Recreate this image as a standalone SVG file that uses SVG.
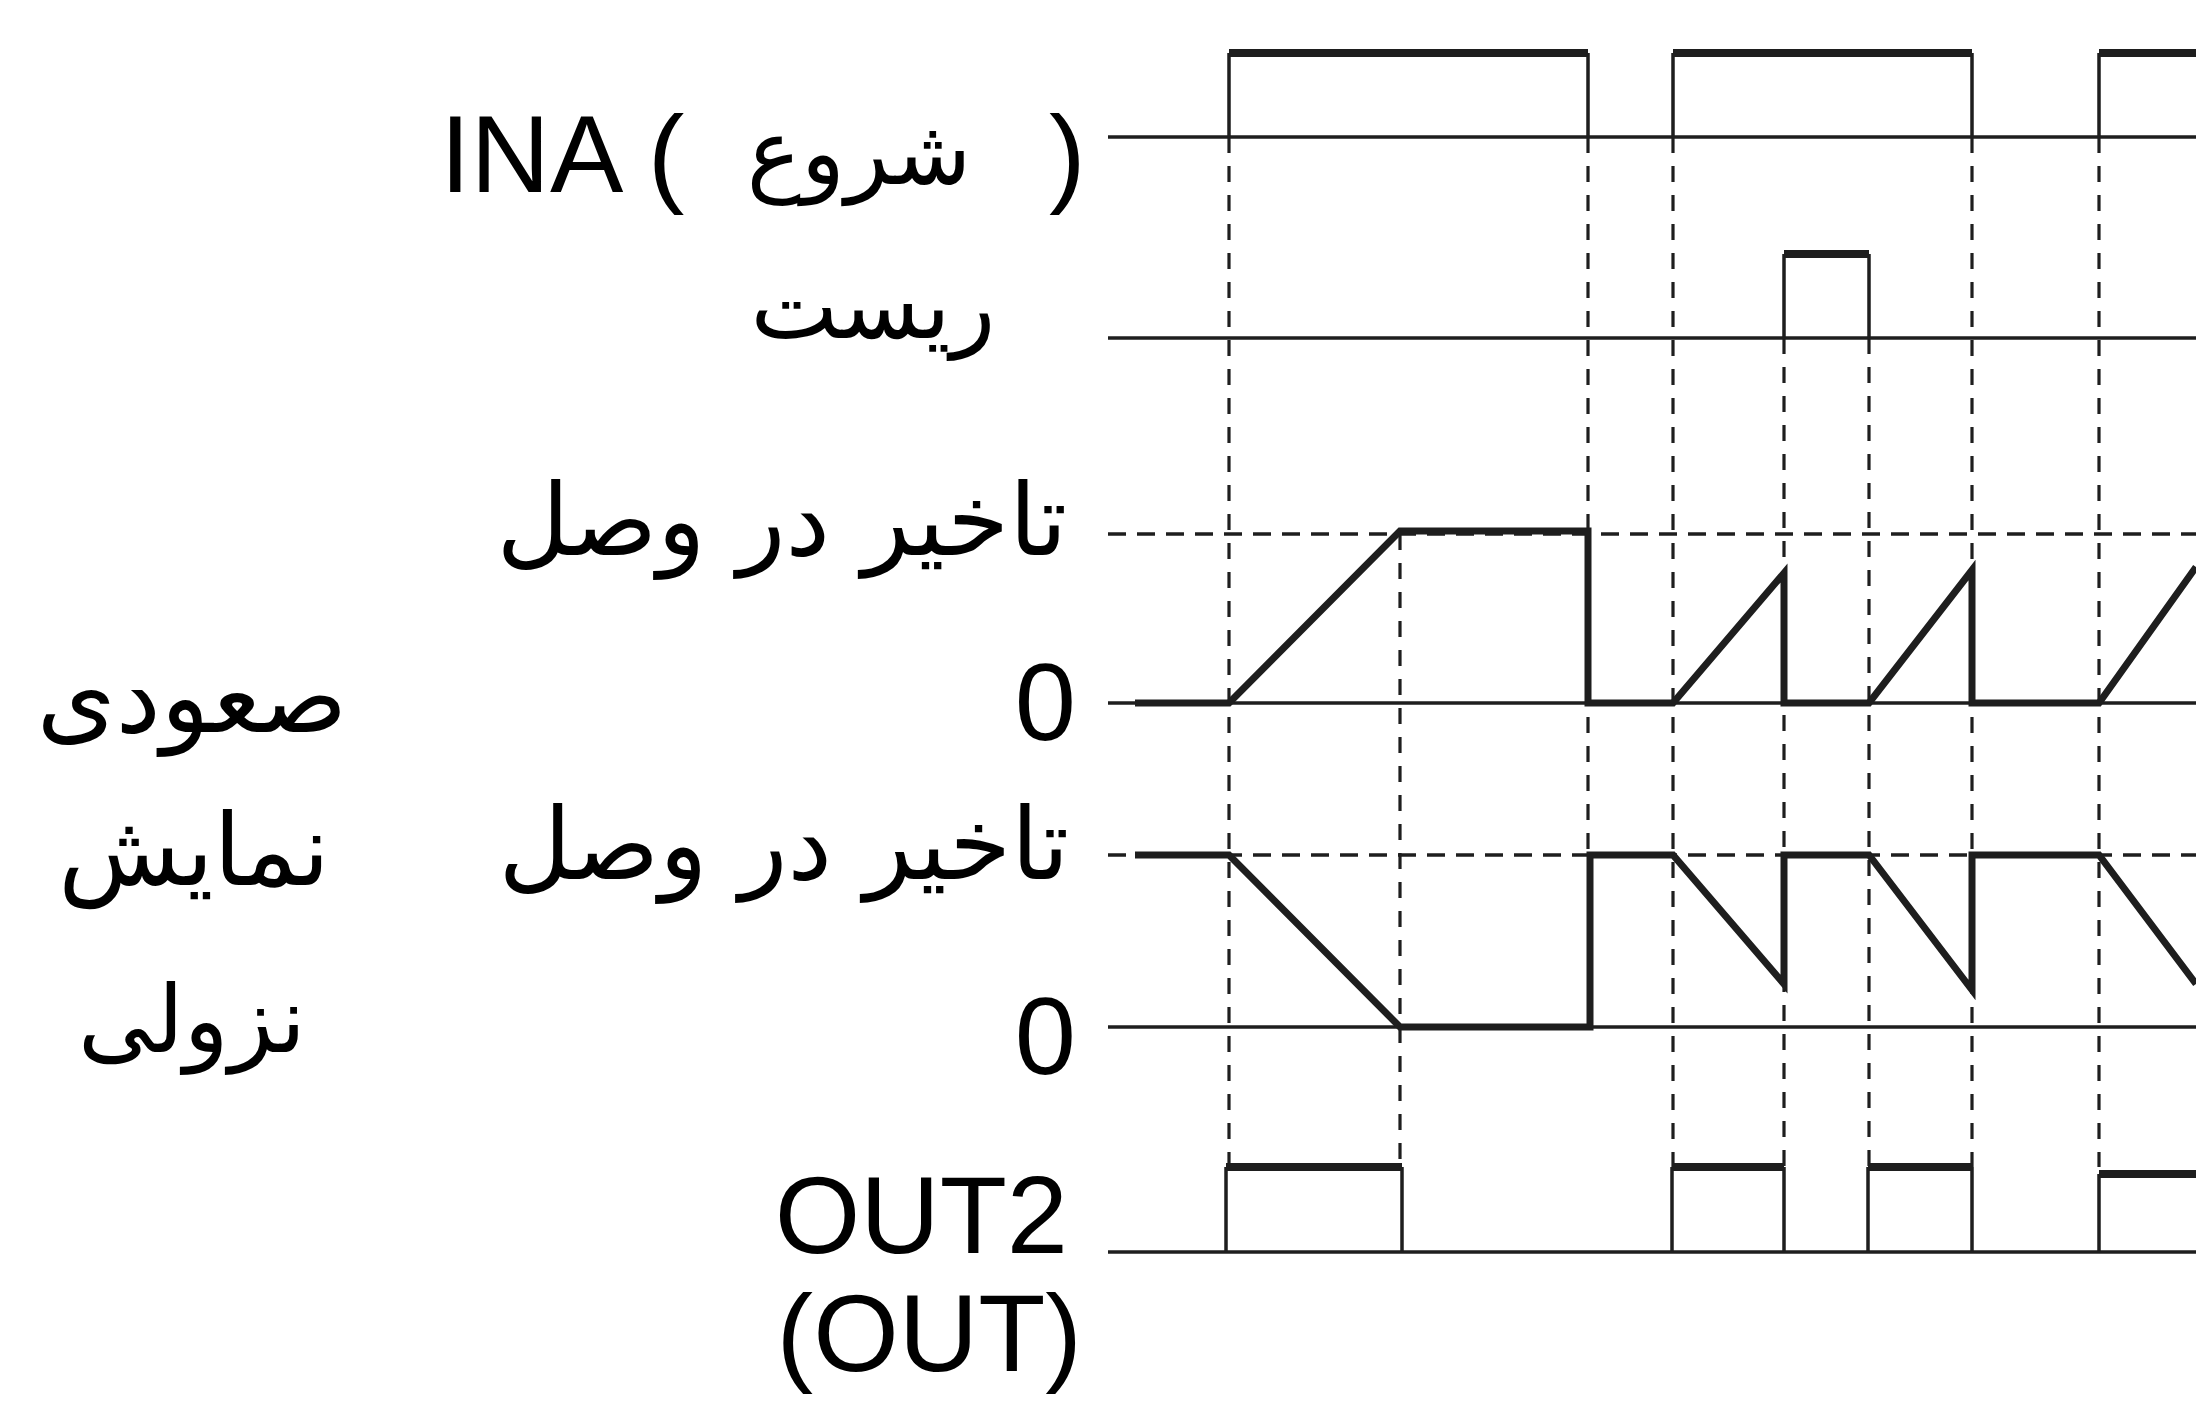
<svg xmlns="http://www.w3.org/2000/svg" width="2196" height="1406" viewBox="0 0 2196 1406">
<style>
.base{stroke:#1e1e1e;stroke-width:3.5;fill:none}
.edge{stroke:#1e1e1e;stroke-width:3.5;fill:none}
.high{stroke:#1e1e1e;stroke-width:8;fill:none}
.wave{stroke:#1e1e1e;stroke-width:7;fill:none;stroke-linejoin:miter}
.hdash{stroke:#1e1e1e;stroke-width:3.5;fill:none;stroke-dasharray:18 11}
.vdash{stroke:#1e1e1e;stroke-width:3.2;fill:none;stroke-dasharray:16 13}
.lat{font-family:"Liberation Sans",Arial,sans-serif;font-size:110px;fill:#000}
.fa{font-family:"DejaVu Sans",sans-serif;font-size:100px;fill:#000}
</style>
<rect width="2196" height="1406" fill="#fff"/>
<g id="connectors">
<line class="vdash" x1="1229" y1="137" x2="1229" y2="1167"/>
<line class="vdash" x1="1400" y1="534" x2="1400" y2="1167"/>
<line class="vdash" x1="1588" y1="137" x2="1588" y2="855"/>
<line class="vdash" x1="1673" y1="137" x2="1673" y2="1167"/>
<line class="vdash" x1="1784" y1="338" x2="1784" y2="1167"/>
<line class="vdash" x1="1869" y1="338" x2="1869" y2="1167"/>
<line class="vdash" x1="1972" y1="137" x2="1972" y2="1167"/>
<line class="vdash" x1="2099" y1="137" x2="2099" y2="1167"/>
</g>
<g id="ina">
<line class="base" x1="1108" y1="137" x2="2196" y2="137"/>
<path class="edge" d="M1229 137V53M1588 53V137M1673 137V53M1972 53V137M2099 137V53"/>
<path class="high" d="M1229 53H1588M1673 53H1972M2099 53H2196"/>
</g>
<g id="reset">
<line class="base" x1="1108" y1="338" x2="2196" y2="338"/>
<path class="edge" d="M1784 338V254M1869 254V338"/>
<path class="high" d="M1784 254H1869"/>
</g>
<g id="rise-delay">
<line class="hdash" x1="1108" y1="534" x2="2196" y2="534"/>
<line class="base" x1="1108" y1="703" x2="2196" y2="703"/>
<path class="wave" d="M1135 703H1229L1400 531H1588V703H1673L1784 573V703H1869L1972 570V703H2099L2196 567"/>
</g>
<g id="fall-delay">
<line class="hdash" x1="1108" y1="855" x2="2196" y2="855"/>
<line class="base" x1="1108" y1="1027" x2="2196" y2="1027"/>
<path class="wave" d="M1135 855H1229L1400 1027H1590V855H1673L1784 984V855H1869L1972 990V855H2099L2196 984"/>
</g>
<g id="out2">
<line class="base" x1="1108" y1="1252" x2="2196" y2="1252"/>
<path class="edge" d="M1226 1252V1167M1402 1167V1252M1672 1252V1167M1784 1167V1252M1868 1252V1167M1972 1167V1252M2099 1252V1174"/>
<path class="high" d="M1226 1167H1402M1672 1167H1784M1868 1167H1972M2099 1174H2196"/>
</g>
<g id="label-ina">
<text class="lat" x="440" y="192">INA (</text>
<text class="fa" x="859" y="184" text-anchor="middle" style="font-size:91px">شروع</text>
<text class="lat" x="1049" y="192">)</text>
</g>
<g id="label-reset">
<text class="fa" x="873" y="338" text-anchor="middle" style="font-size:93px">ریست</text>
</g>
<g id="label-rise">
<text class="fa" x="782" y="555" text-anchor="middle">تاخیر در وصل</text>
<text class="lat" x="1076" y="740" text-anchor="end">0</text>
</g>
<g id="label-fall">
<text class="fa" x="784" y="879" text-anchor="middle">تاخیر در وصل</text>
<text class="lat" x="1076" y="1074" text-anchor="end">0</text>
</g>
<g id="label-out2">
<text class="lat" x="1068" y="1253" text-anchor="end">OUT2</text>
<text class="lat" x="1082" y="1371" text-anchor="end">(OUT)</text>
</g>
<g id="label-mode">
<text class="fa" x="192" y="732" text-anchor="middle" style="font-size:101px">صعودی</text>
<text class="fa" x="194" y="885" text-anchor="middle">نمایش</text>
<text class="fa" x="192" y="1052" text-anchor="middle" style="font-size:93px">نزولی</text>
</g>
</svg>
